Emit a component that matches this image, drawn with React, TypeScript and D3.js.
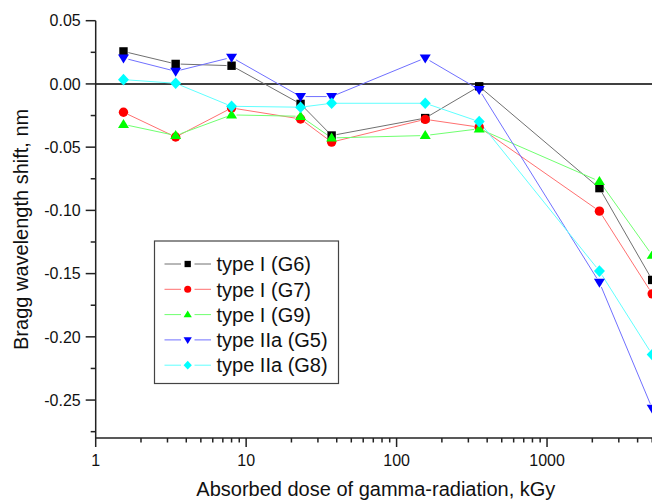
import React from "react";
import * as d3 from "d3";

const doses = [1.53, 3.4, 8, 23, 37, 155, 354, 2230, 5000];
const seriesNames = ["type I (G6)", "type I (G7)", "type I (G9)", "type IIa (G5)", "type IIa (G8)"];
const g6 = [0.0257, 0.0158, 0.0144, -0.0158, -0.0408, -0.027, -0.0019, -0.0824, -0.155];
const g7 = [-0.0224, -0.042, -0.019, -0.0277, -0.046, -0.028, -0.0342, -0.1006, -0.166];
const g9 = [-0.032, -0.0408, -0.0245, -0.0256, -0.0427, -0.0408, -0.0355, -0.077, -0.1355];
const g5 = [0.0205, 0.01, 0.021, -0.01, -0.01, 0.0205, -0.0045, -0.157, -0.2566];
const g8 = [0.0034, 0.0005, -0.0177, -0.0184, -0.0153, -0.0153, -0.0298, -0.148, -0.214];
const yTickLabels = ["0.05", "0.00", "-0.05", "-0.10", "-0.15", "-0.20", "-0.25"];
const xTickLabels = ["1", "10", "100", "1000"];

const markerColors = ["#000000", "#ff0000", "#00ff00", "#0000ff", "#00ffff"];
const lineColors = ["#707070", "#ff7070", "#70ff70", "#7070ff", "#60ffff"];
const shapes = ["square", "circle", "up", "down", "diamond"];
const allSeries = [g6, g7, g9, g5, g8];

const W = 652;
const H = 502;
const FONT = "'Liberation Sans', Arial, sans-serif";

function Marker({ shape, cx, cy, s, fill }: { shape: string; cx: number; cy: number; s: number; fill: string }) {
  if (shape === "square") {
    return <rect x={cx - s * 0.42} y={cy - s * 0.42} width={s * 0.84} height={s * 0.84} fill={fill} />;
  }
  if (shape === "circle") {
    return <circle cx={cx} cy={cy} r={s * 0.47} fill={fill} />;
  }
  if (shape === "up") {
    const h = s * 0.9;
    return (
      <path
        d={`M${cx},${cy - h * 0.6} L${cx + s * 0.55},${cy + h * 0.4} L${cx - s * 0.55},${cy + h * 0.4} Z`}
        fill={fill}
      />
    );
  }
  if (shape === "down") {
    const h = s * 0.9;
    return (
      <path
        d={`M${cx},${cy + h * 0.6} L${cx + s * 0.55},${cy - h * 0.4} L${cx - s * 0.55},${cy - h * 0.4} Z`}
        fill={fill}
      />
    );
  }
  return (
    <path
      d={`M${cx},${cy - s * 0.58} L${cx + s * 0.55},${cy} L${cx},${cy + s * 0.58} L${cx - s * 0.55},${cy} Z`}
      fill={fill}
    />
  );
}

export default function App() {
  const x = d3.scaleLog().domain([1, 5300]).range([95.7, 656]);
  const y = d3.scaleLinear().domain([-0.28, 0.05]).range([438, 20.7]);

  const yMajor = yTickLabels.map((t) => +t);
  const yMinor = d3.range(-0.275, 0.05, 0.05);
  const xMajor = xTickLabels.map((t) => +t);
  const xMinor: number[] = [];
  for (const dec of [1, 10, 100, 1000]) {
    for (let k = 2; k <= 9; k++) {
      if (dec * k <= 5300) xMinor.push(dec * k);
    }
  }

  const gap = 5;
  const segs = (vals: number[]) => {
    const out: { x1: number; y1: number; x2: number; y2: number }[] = [];
    for (let i = 0; i < vals.length - 1; i++) {
      const ax = x(doses[i]);
      const ay = y(vals[i]);
      const bx = x(doses[i + 1]);
      const by = y(vals[i + 1]);
      const L = Math.hypot(bx - ax, by - ay);
      if (L <= 2 * gap) continue;
      const ux = (bx - ax) / L;
      const uy = (by - ay) / L;
      out.push({ x1: ax + ux * gap, y1: ay + uy * gap, x2: bx - ux * gap, y2: by - uy * gap });
    }
    return out;
  };

  const axisColor = "#222";
  const legendX = 154.5;
  const legendY = 241;
  const legendW = 184;
  const legendH = 142.5;
  const rowY0 = 264;
  const rowDy = 25.3;

  return (
    <svg
      width={W}
      height={H}
      style={{ position: "absolute", left: 0, top: 0, background: "#fff" }}
      fontFamily={FONT}
    >
      <rect x={0} y={0} width={W} height={H} fill="#fff" />
      {/* zero line */}
      <line x1={x(1)} x2={W} y1={y(0)} y2={y(0)} stroke="#000" strokeWidth={1.6} />

      {/* series lines */}
      {allSeries.map((vals, si) => (
        <g key={"l" + si}>
          {segs(vals).map((s, i) => (
            <line key={i} x1={s.x1} y1={s.y1} x2={s.x2} y2={s.y2} stroke={lineColors[si]} strokeWidth={1} />
          ))}
        </g>
      ))}
      {/* markers */}
      {allSeries.map((vals, si) => (
        <g key={"m" + si}>
          {vals.map((v, i) => (
            <Marker key={i} shape={shapes[si]} cx={x(doses[i])} cy={y(v)} s={10} fill={markerColors[si]} />
          ))}
        </g>
      ))}

      {/* y axis */}
      <line x1={x(1)} x2={x(1)} y1={y(0.05)} y2={y(-0.28)} stroke={axisColor} strokeWidth={1.5} />
      {yMajor.map((v, i) => (
        <g key={"ym" + i}>
          <line x1={x(1) - 10} x2={x(1)} y1={y(v)} y2={y(v)} stroke={axisColor} strokeWidth={1.5} />
          <text x={x(1) - 15} y={y(v)} dy="0.36em" textAnchor="end" fontSize={16} fill="#111">
            {yTickLabels[i]}
          </text>
        </g>
      ))}
      {yMinor.map((v, i) => (
        <line key={"yn" + i} x1={x(1) - 5} x2={x(1)} y1={y(v)} y2={y(v)} stroke={axisColor} strokeWidth={1.5} />
      ))}

      {/* x axis */}
      <line x1={x(1)} x2={W} y1={y(-0.28)} y2={y(-0.28)} stroke={axisColor} strokeWidth={1.5} />
      {xMajor.map((v, i) => (
        <g key={"xm" + i}>
          <line x1={x(v)} x2={x(v)} y1={y(-0.28)} y2={y(-0.28) + 9} stroke={axisColor} strokeWidth={1.5} />
          <text x={x(v)} y={466} textAnchor="middle" fontSize={16} fill="#111">
            {xTickLabels[i]}
          </text>
        </g>
      ))}
      {xMinor.map((v, i) => (
        <line key={"xn" + i} x1={x(v)} x2={x(v)} y1={y(-0.28)} y2={y(-0.28) + 4.5} stroke={axisColor} strokeWidth={1.5} />
      ))}

      {/* axis titles */}
      <text x={(95.7 + 656) / 2} y={496} textAnchor="middle" fontSize={20} fill="#111">
        Absorbed dose of gamma-radiation, kGy
      </text>
      <text
        transform={`translate(28, ${(20.7 + 438) / 2}) rotate(-90)`}
        textAnchor="middle"
        fontSize={20}
        fill="#111"
      >
        Bragg wavelength shift, nm
      </text>

      {/* legend */}
      <rect x={legendX} y={legendY} width={legendW} height={legendH} fill="#fff" stroke="#444" strokeWidth={1.2} />
      {seriesNames.map((name, i) => {
        const ry = rowY0 + i * rowDy;
        return (
          <g key={"lg" + i}>
            <line x1={164.5} x2={181} y1={ry} y2={ry} stroke={lineColors[i]} strokeWidth={1} />
            <line x1={194.5} x2={211} y1={ry} y2={ry} stroke={lineColors[i]} strokeWidth={1} />
            <Marker shape={shapes[i]} cx={187.7} cy={ry} s={7.5} fill={markerColors[i]} />
            <text x={216.5} y={ry} dy="0.36em" fontSize={20} fill="#111">
              {name}
            </text>
          </g>
        );
      })}
    </svg>
  );
}
